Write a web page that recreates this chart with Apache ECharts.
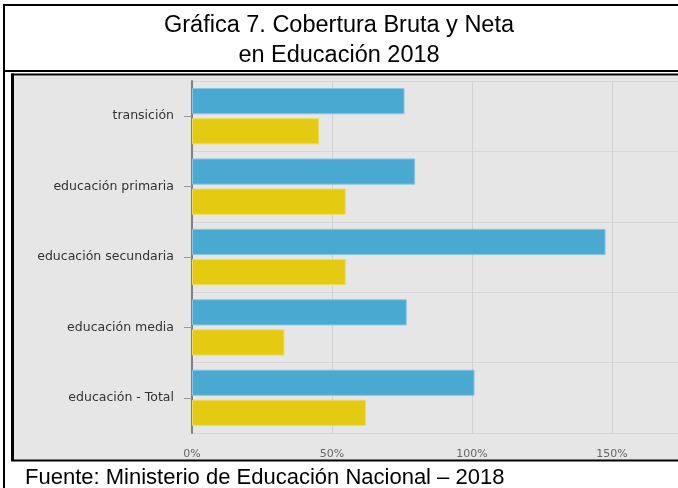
<!DOCTYPE html>
<html>
<head>
<meta charset="utf-8">
<script src="https://cdn.jsdelivr.net/npm/echarts@6/dist/echarts.min.js"></script>
<style>
html,body{margin:0;padding:0;background:#fff;}
#chart{width:678px;height:488px;}
</style>
</head>
<body>
<div id="chart"></div>
<script>
var categories = ['transición', 'educación primaria', 'educación secundaria', 'educación media', 'educación - Total'];
var coberturaBruta = [75.9, 79.7, 147.7, 76.7, 100.9];
var coberturaNeta = [45.4, 54.9, 54.9, 33.0, 62.1];
var xTicks = [0, 50, 100, 150, 200];
var titleLines = ['Gráfica 7. Cobertura Bruta y Neta', 'en Educación 2018'];
var sourceText = 'Fuente: Ministerio de Educación Nacional – 2018';

var chart = echarts.init(document.getElementById('chart'), null, {renderer: 'canvas'});

var option = {
  animation: false,
  backgroundColor: '#ffffff',
  graphic: [
    {type: 'rect', z: -10, shape: {x: 14, y: 76, width: 664, height: 384}, style: {fill: '#e6e6e6'}},
    {type: 'line', z: 10, shape: {x1: 3, y1: 5, x2: 678, y2: 5}, style: {stroke: '#000', lineWidth: 2}},
    {type: 'line', z: 10, shape: {x1: 4, y1: 4, x2: 4, y2: 488}, style: {stroke: '#000', lineWidth: 2}},
    {type: 'line', z: 10, shape: {x1: 3, y1: 71, x2: 678, y2: 71}, style: {stroke: '#000', lineWidth: 2}},
    {type: 'line', z: 10, shape: {x1: 11, y1: 74.5, x2: 678, y2: 74.5}, style: {stroke: '#000', lineWidth: 2}},
    {type: 'line', z: 10, shape: {x1: 12.5, y1: 73.5, x2: 12.5, y2: 461}, style: {stroke: '#000', lineWidth: 3}},
    {type: 'line', z: 10, shape: {x1: 11, y1: 460.5, x2: 678, y2: 460.5}, style: {stroke: '#000', lineWidth: 2}},
    {type: 'text', z: 10, style: {text: titleLines[0], x: 339, y: 26, textAlign: 'center', textVerticalAlign: 'middle', font: '23.5px "Liberation Sans", Arial, sans-serif', fill: '#000'}},
    {type: 'text', z: 10, style: {text: titleLines[1], x: 339, y: 56, textAlign: 'center', textVerticalAlign: 'middle', font: '23.5px "Liberation Sans", Arial, sans-serif', fill: '#000'}},
    {type: 'text', z: 10, style: {text: sourceText, x: 25, y: 478, textAlign: 'left', textVerticalAlign: 'middle', font: '22px "Liberation Sans", Arial, sans-serif', fill: '#000'}}
  ],
  grid: {left: 192, top: 81, width: 560, height: 352, containLabel: false, outerBoundsMode: 'none'},
  xAxis: {
    type: 'value',
    min: xTicks[0],
    max: xTicks[xTicks.length - 1],
    interval: xTicks[1] - xTicks[0],
    axisLine: {show: false},
    axisTick: {show: false},
    axisLabel: {formatter: '{value}%', color: '#666', fontFamily: 'DejaVu Sans', fontSize: 11, margin: 16},
    splitLine: {show: true, lineStyle: {color: '#d2d2d2', width: 1}}
  },
  yAxis: {
    type: 'category',
    data: categories,
    inverse: true,
    axisLine: {show: true, lineStyle: {color: '#808080', width: 2}},
    axisTick: {show: true, alignWithLabel: true, length: 8, lineStyle: {color: '#999'}},
    axisLabel: {color: '#333', fontFamily: 'DejaVu Sans', fontSize: 12.5, margin: 18, padding: [4, 0, 0, 0]},
    splitLine: {show: true, lineStyle: {color: '#d6d6d6', width: 1}}
  },
  series: [
    {
      name: 'Cobertura Bruta',
      type: 'bar',
      data: coberturaBruta,
      barCategoryGap: '20%',
      barGap: '15%',
      itemStyle: {color: '#49a9d1', borderColor: '#86c8e3', borderWidth: 1}
    },
    {
      name: 'Cobertura Neta',
      type: 'bar',
      data: coberturaNeta,
      barCategoryGap: '20%',
      barGap: '15%',
      itemStyle: {color: '#e4ca10', borderColor: '#eedb58', borderWidth: 1}
    }
  ]
};
chart.setOption(option);
</script>
</body>
</html>
